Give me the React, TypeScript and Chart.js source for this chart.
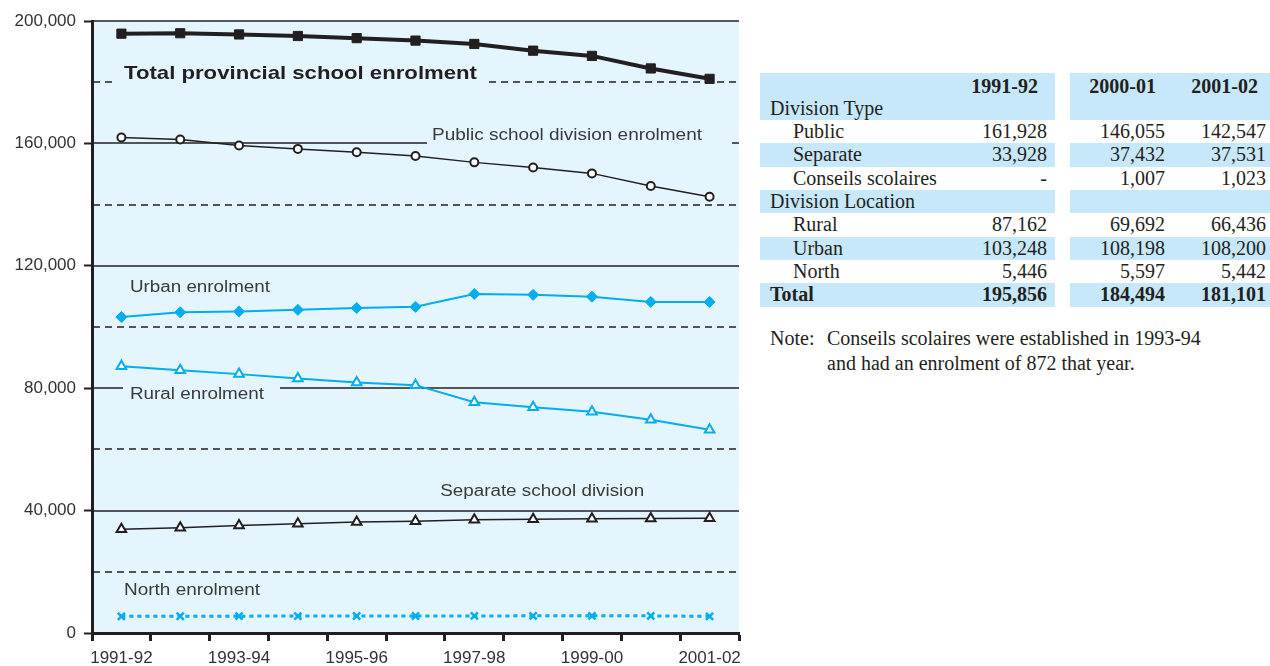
import React, { useEffect, useRef } from 'react';
import { Chart, registerables } from 'chart.js';

Chart.register(...registerables);

// School years on the horizontal axis
const years = ['1991-92', '1992-93', '1993-94', '1994-95', '1995-96', '1996-97', '1997-98', '1998-99', '1999-00', '2000-01', '2001-02'];

// Enrolment series (students)
const totalEnrolment = [195856, 196000, 195600, 195100, 194400, 193600, 192500, 190300, 188600, 184494, 181101];
const publicEnrolment = [161928, 161300, 159300, 158200, 157100, 155900, 153800, 152100, 150200, 146055, 142547];
const urbanEnrolment = [103248, 104800, 105100, 105600, 106200, 106600, 110800, 110500, 109900, 108198, 108200];
const ruralEnrolment = [87162, 85900, 84600, 83200, 81900, 81000, 75400, 73800, 72300, 69692, 66436];
const separateEnrolment = [33928, 34400, 35100, 35700, 36300, 36500, 37000, 37200, 37300, 37432, 37531];
const northEnrolment = [5446, 5480, 5510, 5530, 5550, 5570, 5590, 5600, 5610, 5597, 5442];

// Summary table
const tableYears = ['1991-92', '2000-01', '2001-02'];
const publicRow = [161928, 146055, 142547];
const separateRow = [33928, 37432, 37531];
const conseilsRow = [null, 1007, 1023];
const ruralRow = [87162, 69692, 66436];
const urbanRow = [103248, 108198, 108200];
const northRow = [5446, 5597, 5442];
const totalRow = [195856, 184494, 181101];

const INK = '#231f20';
const CYAN = '#00aeef';
const PLOT_BG = '#e4f5fd';
const ROW_BLUE = '#c6e8fa';
const SANS = '"Liberation Sans", Arial, Helvetica, sans-serif';
const SERIF = '"Liberation Serif", "Times New Roman", serif';

// In-plot series captions, anchored on the scales (category index, value)
const seriesLabels = [
  { text: 'Total provincial school enrolment', at: 0.044, value: 182700, width: 353, size: 19, bold: true, color: INK, gapL: 8, gapR: 9 },
  { text: 'Public school division enrolment', at: 5.28, value: 162600, width: 270, size: 16, bold: false, color: '#3a3a3a', gapL: 5, gapR: 30 },
  { text: 'Urban enrolment', at: 0.146, value: 113000, width: 140, size: 16, bold: false, color: '#3a3a3a', gapL: 0, gapR: 0 },
  { text: 'Rural enrolment', at: 0.146, value: 78000, width: 134, size: 16, bold: false, color: '#3a3a3a', gapL: 7, gapR: 16 },
  { text: 'Separate school division', at: 5.42, value: 46100, width: 204, size: 16, bold: false, color: '#3a3a3a', gapL: 0, gapR: 0 },
  { text: 'North enrolment', at: 0.044, value: 14000, width: 136, size: 16, bold: false, color: '#3a3a3a', gapL: 0, gapR: 0 },
];

const plotDecor = {
  id: 'plotDecor',
  beforeDraw(chart: any) {
    const { ctx, chartArea: a } = chart;
    ctx.save();
    ctx.fillStyle = PLOT_BG;
    ctx.fillRect(a.left, a.top, a.right - a.left, a.bottom - a.top);
    ctx.restore();
  },
  beforeDatasetsDraw(chart: any) {
    const { ctx, chartArea: a, scales } = chart;
    const xs = scales.x;
    const ys = scales.y;
    ctx.save();
    // horizontal reference lines: solid every 40,000, dashed in between
    for (let v = 20000; v <= 200000; v += 20000) {
      const py = Math.round(ys.getPixelForValue(v));
      ctx.beginPath();
      ctx.setLineDash(v % 40000 === 0 ? [] : [7, 5]);
      ctx.lineWidth = 1.5;
      ctx.strokeStyle = INK;
      ctx.moveTo(a.left + 1, py);
      ctx.lineTo(a.right, py);
      ctx.stroke();
    }
    ctx.setLineDash([]);
    // captions with a plot-coloured backing so they break the lines
    for (const l of seriesLabels) {
      ctx.font = `${l.bold ? 'bold ' : ''}${l.size}px ${SANS}`;
      const w0 = ctx.measureText(l.text).width;
      const sx = l.width / w0;
      const left = xs.getPixelForValue(l.at);
      const cy = ys.getPixelForValue(l.value);
      ctx.fillStyle = PLOT_BG;
      ctx.fillRect(left - l.gapL, cy - l.size * 0.7, l.width + l.gapL + l.gapR, l.size * 1.4);
      ctx.save();
      ctx.translate(left, cy);
      ctx.scale(sx, 1);
      ctx.textBaseline = 'middle';
      ctx.textAlign = 'left';
      ctx.fillStyle = l.color;
      ctx.fillText(l.text, 0, 0);
      ctx.restore();
    }
    ctx.restore();
  },
};

const fmt = (v: number | null) => (v === null ? '-' : v.toLocaleString('en-US'));

function SummaryTable() {
  const cols = '200px 95px 15px 100px 100px';
  const rows: { label: string; values: (number | null)[] | null; blue: boolean; indent: boolean; bold: boolean }[] = [
    { label: 'Public', values: publicRow, blue: false, indent: true, bold: false },
    { label: 'Separate', values: separateRow, blue: true, indent: true, bold: false },
    { label: 'Conseils scolaires', values: conseilsRow, blue: false, indent: true, bold: false },
    { label: 'Division Location', values: null, blue: true, indent: false, bold: false },
    { label: 'Rural', values: ruralRow, blue: false, indent: true, bold: false },
    { label: 'Urban', values: urbanRow, blue: true, indent: true, bold: false },
    { label: 'North', values: northRow, blue: false, indent: true, bold: false },
    { label: 'Total', values: totalRow, blue: true, indent: false, bold: true },
  ];
  const cell = (bg: string, extra: React.CSSProperties = {}): React.CSSProperties => ({
    background: bg,
    whiteSpace: 'nowrap',
    overflow: 'visible',
    ...extra,
  });
  const pads = [8, 5, 4];
  const headPads = [17, 14, 12];
  return (
    <div style={{ position: 'absolute', left: 760, top: 73, width: 510, fontFamily: SERIF, fontSize: 20, color: INK }}>
      <div style={{ display: 'grid', gridTemplateColumns: cols, gridAutoRows: '23.5px', lineHeight: '23.5px' }}>
        <div style={cell(ROW_BLUE)} />
        <div style={cell(ROW_BLUE, { textAlign: 'right', paddingRight: headPads[0], fontWeight: 'bold', paddingTop: 2 })}>{tableYears[0]}</div>
        <div style={cell('#fff')} />
        <div style={cell(ROW_BLUE, { textAlign: 'right', paddingRight: headPads[1], fontWeight: 'bold', paddingTop: 2 })}>{tableYears[1]}</div>
        <div style={cell(ROW_BLUE, { textAlign: 'right', paddingRight: headPads[2], fontWeight: 'bold', paddingTop: 2 })}>{tableYears[2]}</div>
        <div style={cell(ROW_BLUE, { paddingLeft: 10 })}>Division Type</div>
        <div style={cell(ROW_BLUE)} />
        <div style={cell('#fff')} />
        <div style={cell(ROW_BLUE)} />
        <div style={cell(ROW_BLUE)} />
      </div>
      <div style={{ display: 'grid', gridTemplateColumns: cols, gridAutoRows: '23.33px', lineHeight: '23.33px' }}>
        {rows.map((r) => {
          const bg = r.blue ? ROW_BLUE : '#fff';
          const fw = r.bold ? 'bold' : 'normal';
          return (
            <React.Fragment key={r.label}>
              <div style={cell(bg, { paddingLeft: r.indent ? 33 : 10, fontWeight: fw })}>{r.label}</div>
              <div style={cell(bg, { textAlign: 'right', paddingRight: pads[0], fontWeight: fw })}>{r.values ? fmt(r.values[0]) : ''}</div>
              <div style={cell('#fff')} />
              <div style={cell(bg, { textAlign: 'right', paddingRight: pads[1], fontWeight: fw })}>{r.values ? fmt(r.values[1]) : ''}</div>
              <div style={cell(bg, { textAlign: 'right', paddingRight: pads[2], fontWeight: fw })}>{r.values ? fmt(r.values[2]) : ''}</div>
            </React.Fragment>
          );
        })}
      </div>
    </div>
  );
}

function Note() {
  return (
    <div style={{ position: 'absolute', left: 770, top: 326, fontFamily: SERIF, fontSize: 20, lineHeight: '24.7px', color: INK, whiteSpace: 'nowrap' }}>
      <div style={{ position: 'absolute', left: 0, top: 0 }}>Note:</div>
      <div style={{ position: 'absolute', left: 57, top: 0 }}>
        Conseils scolaires were established in 1993-94
        <br />
        and had an enrolment of 872 that year.
      </div>
    </div>
  );
}

export default function App() {
  const canvasRef = useRef<HTMLCanvasElement>(null);

  useEffect(() => {
    if (!canvasRef.current) return;
    const tickFont = { family: SANS, size: 17 };
    const chart = new Chart(canvasRef.current, {
      type: 'line',
      data: {
        labels: years,
        datasets: [
          {
            label: 'Total provincial school enrolment',
            data: totalEnrolment,
            borderColor: INK,
            borderWidth: 4,
            pointStyle: 'rect',
            pointRadius: 6.5,
            pointBackgroundColor: INK,
            pointBorderColor: INK,
            pointBorderWidth: 1,
          },
          {
            label: 'Public school division enrolment',
            data: publicEnrolment,
            borderColor: INK,
            borderWidth: 1.5,
            pointStyle: 'circle',
            pointRadius: 4,
            pointBackgroundColor: '#ffffff',
            pointBorderColor: INK,
            pointBorderWidth: 2,
          },
          {
            label: 'Urban enrolment',
            data: urbanEnrolment,
            borderColor: CYAN,
            borderWidth: 2,
            pointStyle: 'rectRot',
            pointRadius: 5.5,
            pointBackgroundColor: CYAN,
            pointBorderColor: CYAN,
            pointBorderWidth: 1,
          },
          {
            label: 'Rural enrolment',
            data: ruralEnrolment,
            borderColor: CYAN,
            borderWidth: 2,
            pointStyle: 'triangle',
            pointRadius: 5.5,
            pointBackgroundColor: '#ffffff',
            pointBorderColor: CYAN,
            pointBorderWidth: 2,
          },
          {
            label: 'Separate school division',
            data: separateEnrolment,
            borderColor: INK,
            borderWidth: 1.5,
            pointStyle: 'triangle',
            pointRadius: 5.5,
            pointBackgroundColor: '#ffffff',
            pointBorderColor: INK,
            pointBorderWidth: 2,
          },
          {
            label: 'North enrolment',
            data: northEnrolment,
            borderColor: CYAN,
            borderWidth: 3,
            borderDash: [4, 4],
            pointStyle: 'crossRot',
            pointRadius: 5,
            pointBorderColor: CYAN,
            pointBorderWidth: 2.5,
          },
        ],
      },
      options: {
        responsive: false,
        animation: false,
        events: [],
        layout: { padding: { top: 21, right: 21, left: 0, bottom: 0 } },
        elements: { line: { tension: 0 } },
        plugins: { legend: { display: false }, tooltip: { enabled: false } },
        scales: {
          x: {
            type: 'category',
            offset: true,
            afterFit(s: any) {
              s.height = 33;
            },
            ticks: {
              autoSkip: false,
              maxRotation: 0,
              minRotation: 0,
              padding: 7,
              color: '#333333',
              font: tickFont,
              callback: (_v: any, i: number) => (i % 2 === 0 ? years[i] : ''),
            },
            grid: {
              offset: true,
              drawOnChartArea: false,
              drawTicks: true,
              tickLength: 8,
              tickWidth: 3,
              tickColor: INK,
            },
            border: { display: true, color: INK, width: 3 },
          },
          y: {
            type: 'linear',
            min: 0,
            max: 200000,
            afterFit(s: any) {
              s.width = 92;
            },
            ticks: {
              stepSize: 20000,
              autoSkip: false,
              padding: 8,
              color: '#333333',
              font: tickFont,
              callback: (v: any) => (Number(v) % 40000 === 0 ? Number(v).toLocaleString('en-US') : ''),
            },
            grid: {
              drawOnChartArea: false,
              drawTicks: true,
              tickLength: 8,
              tickWidth: 2,
              tickColor: (c: any) => (c.tick && c.tick.value % 40000 === 0 ? INK : 'rgba(0,0,0,0)'),
            },
            border: { display: true, color: INK, width: 3 },
          },
        },
      },
      plugins: [plotDecor],
    });
    return () => chart.destroy();
  }, []);

  return (
    <div style={{ position: 'absolute', left: 0, top: 0, width: 1270, height: 666, background: '#ffffff', overflow: 'hidden' }}>
      <canvas ref={canvasRef} width={760} height={666} style={{ position: 'absolute', left: 0, top: 0, width: 760, height: 666 }} />
      <SummaryTable />
      <Note />
    </div>
  );
}
